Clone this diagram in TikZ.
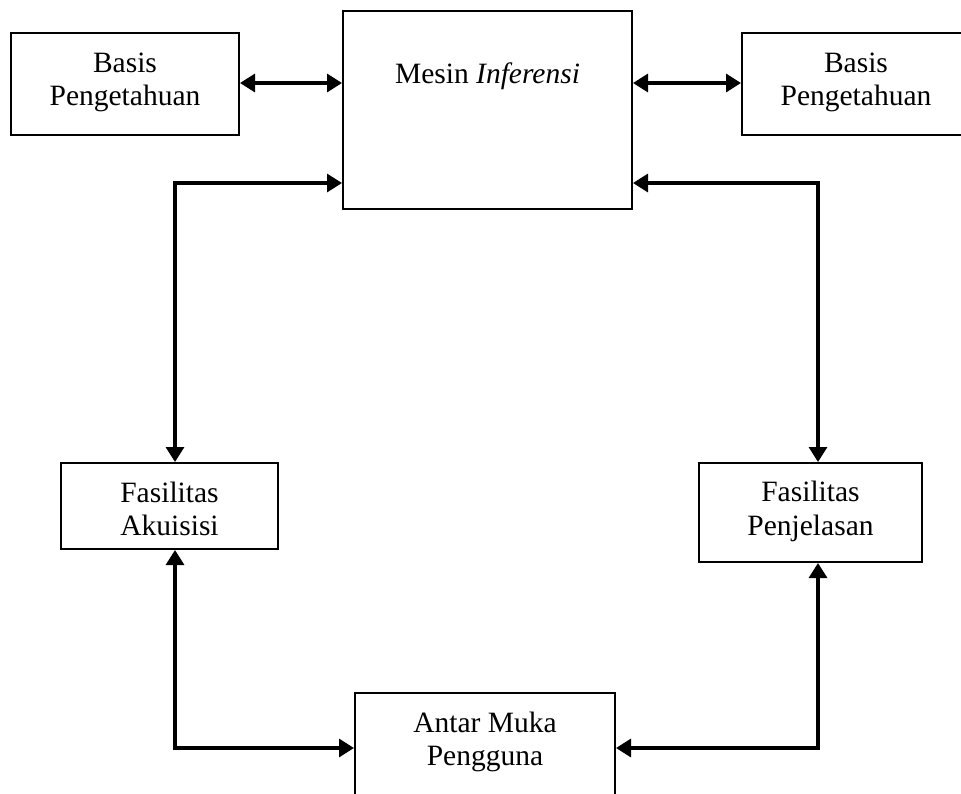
\documentclass[tikz,border=0pt]{standalone}
\usepackage{fontspec}
\setmainfont{Liberation Serif}
\usetikzlibrary{arrows.meta}
\begin{document}
\begin{tikzpicture}[x=1pt,y=-1pt,
  box/.style={draw=black,line width=2pt,fill=white,inner sep=0pt},
  lbl/.style={font=\fontsize{29.5pt}{33pt}\selectfont,inner sep=0pt,anchor=base,align=center},
  tip/.tip={Triangle[length=15pt,width=18pt]},
  conn/.style={line width=3.2pt,tip-tip}]
\useasboundingbox (0,0) rectangle (961,793);
\begin{scope}
\clip (0,0) rectangle (961,793);
% boxes
\node[box,minimum width=228pt,minimum height=102pt] (kbL) at (125,84) {};
\node[box,minimum width=289pt,minimum height=198pt] (mesin) at (487.5,110) {};
\node[box,minimum width=228pt,minimum height=102pt] (kbR) at (856,84) {};
\node[box,minimum width=217pt,minimum height=86pt] (fa) at (169.5,506) {};
\node[box,minimum width=223pt,minimum height=99pt] (fp) at (810.5,512.5) {};
\node[box,minimum width=260pt,minimum height=102pt] (ui) at (485,744) {};
% texts
\node[lbl] (tkbL) at (125,72) {Basis};
\node[lbl] (tkbL2) at (125,105) {Pengetahuan};
\node[lbl] (tmesin) at (487.5,83) {Mesin \textit{Inferensi}};
\node[lbl] (tkbR) at (856,72) {Basis};
\node[lbl] (tkbR2) at (856,105) {Pengetahuan};
\node[lbl] (tfa) at (169.5,502) {Fasilitas};
\node[lbl] (tfa2) at (169.5,535) {Akuisisi};
\node[lbl] (tfp) at (810.5,501) {Fasilitas};
\node[lbl] (tfp2) at (810.5,535) {Penjelasan};
\node[lbl] (tui) at (485,732) {Antar Muka};
\node[lbl] (tui2) at (485,765) {Pengguna};
\end{scope}
% corner points of the connectors
\coordinate (cA) at (175,183);
\coordinate (cB) at (818,183);
\coordinate (cC) at (175,748);
\coordinate (cD) at (818,748);
\coordinate (cE) at (0,83);
% connectors
\draw[conn] (cE -| kbL.east) -- (cE -| mesin.west);
\draw[conn] (cE -| mesin.east) -- (cE -| kbR.west);
\draw[conn] (cA |- fa.north) -- (cA) -- (cA -| mesin.west);
\draw[conn] (cB -| mesin.east) -- (cB) -- (cB |- fp.north);
\draw[conn] (cC |- fa.south) -- (cC) -- (cC -| ui.west);
\draw[conn] (cD |- fp.south) -- (cD) -- (cD -| ui.east);
\end{tikzpicture}
\end{document}
